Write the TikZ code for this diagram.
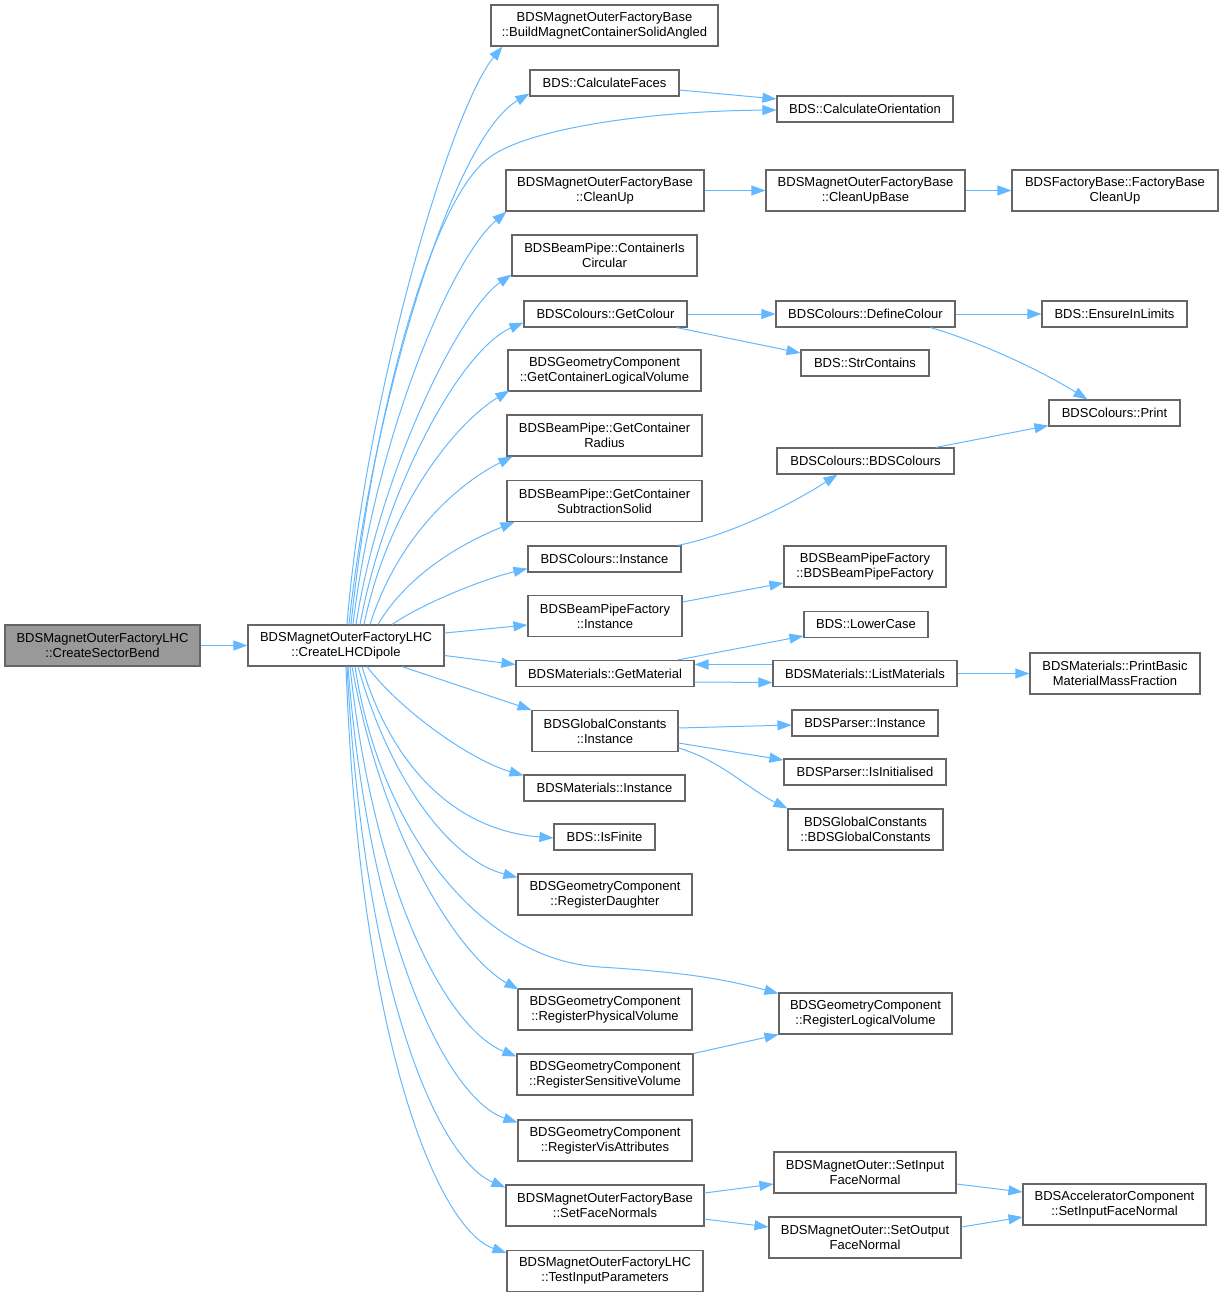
\documentclass[tikz,border=0pt]{standalone}
\usepackage{fontspec}
\setmainfont{Liberation Sans}
\usetikzlibrary{arrows.meta,calc}
\definecolor{edgeblue}{HTML}{63B8FF}
\definecolor{boxline}{HTML}{666666}
\definecolor{rootfill}{HTML}{999999}
\tikzset{
  fnbox/.style={draw=boxline, line width=1.1pt, fill=white, inner sep=0pt, align=center,
    font=\fontsize{13}{15}\selectfont},
  rootbox/.style={fnbox, fill=rootfill},
  callarrow/.style={draw=edgeblue, line width=1pt, -{Triangle[length=14pt,width=10pt]}},
}
\begin{document}
\begin{tikzpicture}[x=1pt,y=-1pt]
\useasboundingbox (0,0) rectangle (1223,1297);
% nodes
\node[rootbox, minimum width=195pt, minimum height=41pt] (A) at (102.5,645.5) {BDSMagnetOuterFactoryLHC\\::CreateSectorBend};
\node[fnbox, minimum width=196pt, minimum height=41pt] (B) at (346,645.5) {BDSMagnetOuterFactoryLHC\\::CreateLHCDipole};
\node[fnbox, minimum width=227pt, minimum height=41pt] (n1) at (604.5,25.5) {BDSMagnetOuterFactoryBase\\::BuildMagnetContainerSolidAngled};
\node[fnbox, minimum width=149pt, minimum height=26pt] (n2) at (604.5,83) {BDS::CalculateFaces};
\node[fnbox, minimum width=176pt, minimum height=26pt] (n3) at (865,109) {BDS::CalculateOrientation};
\node[fnbox, minimum width=198pt, minimum height=41pt] (n4) at (605,190.5) {BDSMagnetOuterFactoryBase\\::CleanUp};
\node[fnbox, minimum width=199pt, minimum height=41pt] (n5) at (865.5,190.5) {BDSMagnetOuterFactoryBase\\::CleanUpBase};
\node[fnbox, minimum width=206pt, minimum height=41pt] (n6) at (1115,190.5) {BDSFactoryBase::FactoryBase\\CleanUp};
\node[fnbox, minimum width=185pt, minimum height=41pt] (n7) at (604.5,255.5) {BDSBeamPipe::ContainerIs\\Circular};
\node[fnbox, minimum width=163pt, minimum height=26pt] (n8) at (605.5,314) {BDSColours::GetColour};
\node[fnbox, minimum width=179pt, minimum height=26pt] (n9) at (865.5,314) {BDSColours::DefineColour};
\node[fnbox, minimum width=145pt, minimum height=26pt] (n10) at (1114.5,314) {BDS::EnsureInLimits};
\node[fnbox, minimum width=128pt, minimum height=26pt] (n11) at (865,363) {BDS::StrContains};
\node[fnbox, minimum width=193pt, minimum height=41pt] (n12) at (604.5,370.5) {BDSGeometryComponent\\::GetContainerLogicalVolume};
\node[fnbox, minimum width=131pt, minimum height=26pt] (n13) at (1114.5,413) {BDSColours::Print};
\node[fnbox, minimum width=195pt, minimum height=41pt] (n14) at (604.5,435.5) {BDSBeamPipe::GetContainer\\Radius};
\node[fnbox, minimum width=177pt, minimum height=26pt] (n15) at (865.5,461) {BDSColours::BDSColours};
\node[fnbox, minimum width=195pt, minimum height=41pt] (n16) at (604.5,501) {BDSBeamPipe::GetContainer\\SubtractionSolid};
\node[fnbox, minimum width=153pt, minimum height=26pt] (n17) at (604.5,559) {BDSColours::Instance};
\node[fnbox, minimum width=162pt, minimum height=41pt] (n18) at (865,566.5) {BDSBeamPipeFactory\\::BDSBeamPipeFactory};
\node[fnbox, minimum width=154pt, minimum height=41pt] (n19) at (605,616) {BDSBeamPipeFactory\\::Instance};
\node[fnbox, minimum width=124pt, minimum height=26pt] (n20) at (866,624.5) {BDS::LowerCase};
\node[fnbox, minimum width=178pt, minimum height=26pt] (n21) at (605,673.5) {BDSMaterials::GetMaterial};
\node[fnbox, minimum width=184pt, minimum height=26pt] (n22) at (865,673.5) {BDSMaterials::ListMaterials};
\node[fnbox, minimum width=170pt, minimum height=41pt] (n23) at (1115,673.5) {BDSMaterials::PrintBasic\\MaterialMassFraction};
\node[fnbox, minimum width=146pt, minimum height=41pt] (n24) at (605,731) {BDSGlobalConstants\\::Instance};
\node[fnbox, minimum width=146pt, minimum height=26pt] (n25) at (865,723) {BDSParser::Instance};
\node[fnbox, minimum width=162pt, minimum height=26pt] (n26) at (865,772) {BDSParser::IsInitialised};
\node[fnbox, minimum width=155pt, minimum height=41pt] (n27) at (865.5,829.5) {BDSGlobalConstants\\::BDSGlobalConstants};
\node[fnbox, minimum width=161pt, minimum height=26pt] (n28) at (604.5,788) {BDSMaterials::Instance};
\node[fnbox, minimum width=101pt, minimum height=26pt] (n29) at (604.5,837) {BDS::IsFinite};
\node[fnbox, minimum width=174pt, minimum height=41pt] (n30) at (605,894.5) {BDSGeometryComponent\\::RegisterDaughter};
\node[fnbox, minimum width=174pt, minimum height=41pt] (n31) at (605,1009.5) {BDSGeometryComponent\\::RegisterPhysicalVolume};
\node[fnbox, minimum width=173pt, minimum height=41pt] (n32) at (865.5,1013.5) {BDSGeometryComponent\\::RegisterLogicalVolume};
\node[fnbox, minimum width=176pt, minimum height=41pt] (n33) at (605,1074.5) {BDSGeometryComponent\\::RegisterSensitiveVolume};
\node[fnbox, minimum width=174pt, minimum height=41pt] (n34) at (605,1140.5) {BDSGeometryComponent\\::RegisterVisAttributes};
\node[fnbox, minimum width=182pt, minimum height=41pt] (n35) at (865,1172.5) {BDSMagnetOuter::SetInput\\FaceNormal};
\node[fnbox, minimum width=198pt, minimum height=41pt] (n36) at (605,1205.5) {BDSMagnetOuterFactoryBase\\::SetFaceNormals};
\node[fnbox, minimum width=192pt, minimum height=41pt] (n37) at (865,1237.5) {BDSMagnetOuter::SetOutput\\FaceNormal};
\node[fnbox, minimum width=183pt, minimum height=41pt] (n38) at (1114.5,1204.5) {BDSAcceleratorComponent\\::SetInputFaceNormal};
\node[fnbox, minimum width=196pt, minimum height=41pt] (n39) at (605,1271) {BDSMagnetOuterFactoryLHC\\::TestInputParameters};
% edges
\draw[callarrow] (A.east) -- (B.west);
% upper fan
\draw[callarrow] ($(B.north)+(1,0)$) .. controls (365,400) and (450,110) .. ($(n1.south west)+(12,0)$);
\draw[callarrow] ($(B.north)+(3,0)$) .. controls (370,420) and (450,140) .. ($(n2.south west)+(0,-3)$);
\draw[callarrow] ($(B.north)+(5,0)$) .. controls (372,420) and (430,200) .. (490,157) .. controls (530,128) and (650,111) .. ($(n3.west)+(0,1)$);
\draw[callarrow] ($(B.north)+(7,0)$) .. controls (375,440) and (450,260) .. ($(n4.south west)+(1,0)$);
\draw[callarrow] ($(B.north)+(10,0)$) .. controls (380,470) and (460,310) .. ($(n7.south west)+(0,-2)$);
\draw[callarrow] ($(B.north)+(14,0)$) .. controls (385,490) and (460,350) .. ($(n8.south west)+(0,-5)$);
\draw[callarrow] ($(B.north)+(18,0)$) .. controls (390,500) and (460,420) .. ($(n12.south west)+(2,-1)$);
\draw[callarrow] ($(B.north)+(24,0)$) .. controls (400,530) and (465,480) .. ($(n14.south west)+(6,0)$);
\draw[callarrow] ($(B.north)+(32,0)$) .. controls (410,570) and (470,540) .. ($(n16.south west)+(8,0)$);
\draw[callarrow] ($(B.north)+(46,0)$) .. controls (420,605) and (480,580) .. ($(n17.south west)+(0,-4)$);
\draw[callarrow] ($(B.east)+(0,-12.5)$) -- ($(n19.west)+(0,9)$);
\draw[callarrow] ($(B.east)+(0,10)$) -- ($(n21.west)+(0,-9)$);
% lower fan
\draw[callarrow] ($(B.south)+(56,0)$) -- (n24.north west);
\draw[callarrow] ($(B.south)+(21,0)$) .. controls (400,710) and (470,760) .. ($(n28.north west)+(0,1)$);
\draw[callarrow] ($(B.south)+(16,0)$) .. controls (390,760) and (450,830) .. ($(n29.west)+(0,1)$);
\draw[callarrow] ($(B.south)+(12,0)$) .. controls (390,780) and (450,860) .. ($(n30.north west)+(0,4)$);
\draw[callarrow] ($(B.south)+(9,0)$) .. controls (380,830) and (480,960) .. (600,967) .. controls (680,972) and (720,978) .. ($(n32.north west)+(0,1)$);
\draw[callarrow] ($(B.south)+(6,0)$) .. controls (385,850) and (465,960) .. ($(n31.north west)+(1,1)$);
\draw[callarrow] ($(B.south)+(4,0)$) .. controls (375,900) and (450,1030) .. ($(n33.north west)+(0,3)$);
\draw[callarrow] ($(B.south)+(2,0)$) .. controls (370,950) and (450,1100) .. ($(n34.north west)+(0,3)$);
\draw[callarrow] ($(B.south)+(1,0)$) .. controls (365,1000) and (440,1160) .. ($(n36.north west)+(0,3)$);
\draw[callarrow] (B.south) .. controls (360,1050) and (440,1230) .. ($(n39.north west)+(0,3)$);
% right side
\draw[callarrow] ($(n2.east)+(0,7)$) -- ($(n3.west)+(0,-10)$);
\draw[callarrow] (n4.east) -- (n5.west);
\draw[callarrow] (n5.east) -- (n6.west);
\draw[callarrow] (n8.east) -- (n9.west);
\draw[callarrow] ($(n8.south east)+(-11,0)$) -- ($(n11.west)+(0,-10)$);
\draw[callarrow] (n9.east) -- (n10.west);
\draw[callarrow] ($(n9.south east)+(-25,0)$) .. controls (980,342) and (1040,370) .. ($(n13.north west)+(39,0)$);
\draw[callarrow] ($(n15.north east)+(-19,0)$) -- ($(n13.south west)+(0,-1)$);
\draw[callarrow] ($(n17.north east)+(-4,0)$) .. controls (730,535) and (790,505) .. ($(n15.south west)+(61,0)$);
\draw[callarrow] ($(n19.east)+(0,-14)$) -- ($(n18.west)+(0,16.5)$);
\draw[callarrow] ($(n21.north east)+(-17,0)$) -- ($(n20.west)+(0,11.5)$);
\draw[callarrow] ($(n21.east)+(0,8.5)$) -- ($(n22.west)+(0,9)$);
\draw[callarrow] ($(n22.west)+(0,-9)$) -- ($(n21.east)+(0,-9)$);
\draw[callarrow] (n22.east) -- (n23.west);
\draw[callarrow] ($(n24.east)+(0,-3)$) -- ($(n25.west)+(0,2)$);
\draw[callarrow] ($(n24.east)+(0,12)$) -- ($(n26.west)+(0,-12)$);
\draw[callarrow] ($(n24.east)+(0,17)$) .. controls (720,760) and (750,790) .. (n27.north west);
\draw[callarrow] (n33.north east) -- (n32.south west);
\draw[callarrow] ($(n36.east)+(0,-12.5)$) -- ($(n35.west)+(0,11.5)$);
\draw[callarrow] ($(n36.east)+(0,13.5)$) -- ($(n37.west)+(0,-10.5)$);
\draw[callarrow] ($(n35.east)+(0,11.5)$) -- ($(n38.west)+(0,-12.5)$);
\draw[callarrow] ($(n37.east)+(0,-10.5)$) -- ($(n38.west)+(0,12.5)$);
\end{tikzpicture}
\end{document}
